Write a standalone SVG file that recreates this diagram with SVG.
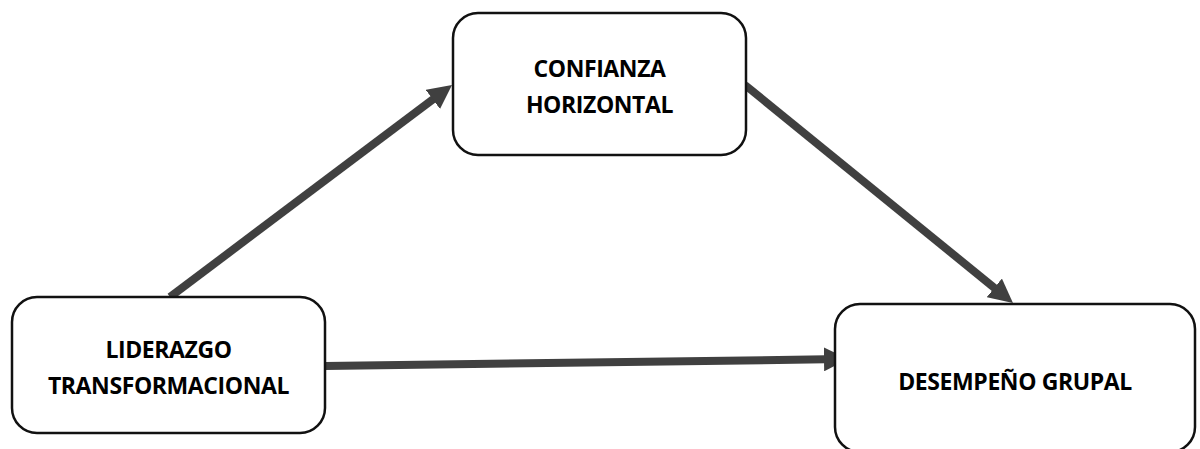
<svg xmlns="http://www.w3.org/2000/svg" width="1200" height="449" viewBox="0 0 1200 449">
<style>
.box{fill:#fff;stroke:#111;stroke-width:2.5}
.lbl{font-family:"Open Sans","Liberation Sans",sans-serif;font-weight:bold;font-size:23px;letter-spacing:-0.4px;fill:#000;text-anchor:middle}
.conn{stroke:#404040;stroke-width:8;fill:none}
</style>
<defs>
<marker id="ah" markerUnits="userSpaceOnUse" viewBox="0 0 24 24" markerWidth="24" markerHeight="24" refX="2" refY="12" orient="auto">
<path d="M0,0 L24,12 L0,24 z" fill="#404040"/>
</marker>
</defs>
<g id="connectors">
<line class="conn" x1="170" y1="297" x2="434.4" y2="98.2" marker-end="url(#ah)"/>
<line class="conn" x1="745" y1="85" x2="995.9" y2="289.1" marker-end="url(#ah)"/>
<line class="conn" x1="325" y1="366" x2="826" y2="359.3" marker-end="url(#ah)"/>
</g>
<g id="liderazgo">
<rect class="box" x="12" y="297" width="313" height="136" rx="25"/>
<text class="lbl" x="168.5" y="358">LIDERAZGO</text>
<text class="lbl" x="168.5" y="394">TRANSFORMACIONAL</text>
</g>
<g id="confianza">
<rect class="box" x="453" y="13" width="293" height="142" rx="25"/>
<text class="lbl" x="599.5" y="77">CONFIANZA</text>
<text class="lbl" x="599.5" y="113">HORIZONTAL</text>
</g>
<g id="desempeno">
<rect class="box" x="835" y="304" width="360" height="148" rx="25"/>
<text class="lbl" x="1015" y="390">DESEMPEÑO GRUPAL</text>
</g>
</svg>
